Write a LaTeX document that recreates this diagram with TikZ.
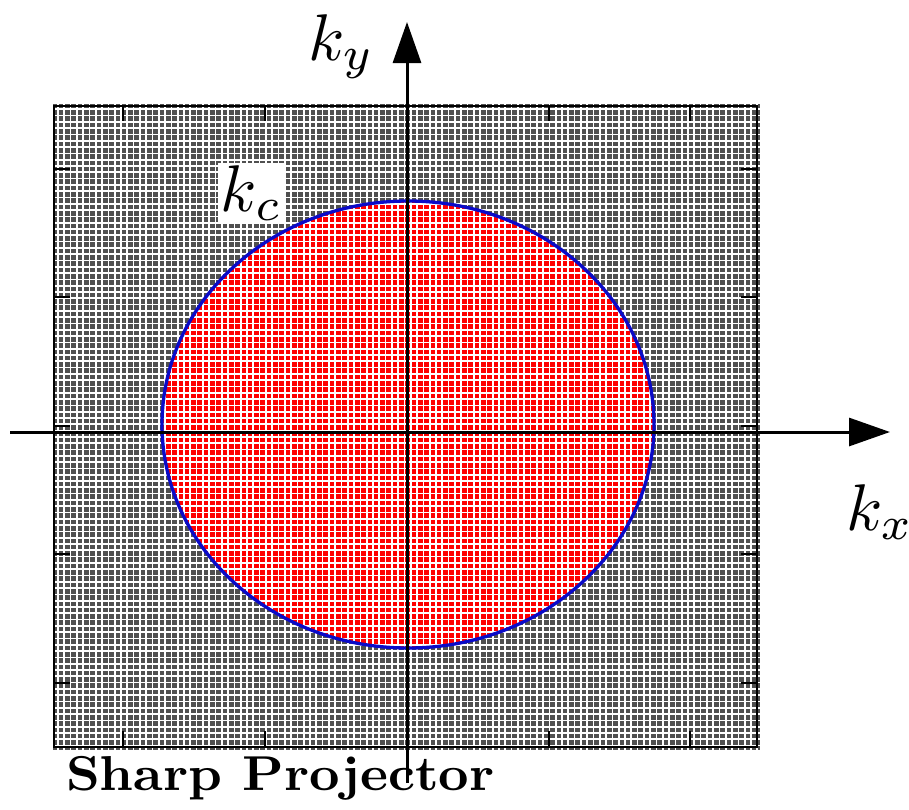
\documentclass[tikz,border=0pt]{standalone}
\usetikzlibrary{arrows.meta}
\definecolor{cellgray}{RGB}{80,80,80}
\definecolor{ringblue}{RGB}{10,10,200}
\tikzset{
  gridline/.style={white, line width=1.7pt},
  frameline/.style={black, line width=2.4pt},
  tickline/.style={black, line width=2pt},
  axisline/.style={black, line width=3pt, -{Triangle[length=41pt,width=28pt]}},
  klabel/.style={inner sep=0pt, scale=6.6},
}
\begin{document}
\begin{tikzpicture}[x=1pt,y=-1pt]
\useasboundingbox (0,0) rectangle (909,809);
% textured background
\fill[cellgray] (51.7,103) rectangle (760,750);
\fill[red] (408,424.5) ellipse [x radius=246, y radius=223.5];
\foreach \i in {0,...,112} {\draw[gridline] (51.7+\i*6.3,103) -- (51.7+\i*6.3,750);}
\foreach \j in {0,...,102} {\draw[gridline] (51.7,103+\j*6.3) -- (760,103+\j*6.3);}
% frame and ticks
\draw[frameline] (54,105.7) rectangle (757,747);
\foreach \x in {123,265,549,690} {
  \draw[tickline] (\x,105.7) -- (\x,121);
  \draw[tickline] (\x,747) -- (\x,731);
}
\foreach \y in {169,297,426,554,683} {
  \draw[tickline] (54,\y) -- (70,\y);
  \draw[tickline] (757,\y) -- (741,\y);
}
% circle boundary
\draw[ringblue, line width=3.3pt] (408,424.5) ellipse [x radius=246, y radius=223.5];
% axes
\coordinate (xs) at (10,432);
\coordinate (xe) at (890,432);
\coordinate (ys) at (407,783);
\coordinate (ye) at (407,22);
\draw[axisline] (xs) -- (xe);
\draw[axisline] (ys) -- (ye);
% labels
\node[klabel, anchor=base west] (ky) at (307,60) {$k_y$};
\node[klabel, anchor=base west] (kx) at (845,530) {$k_x$};
\node[klabel, anchor=base west, fill=white, inner sep=0.4pt] (kc) at (217,211) {$k_c$};
\node[anchor=base west, inner sep=0pt, xscale=5.3, yscale=4.9] (title) at (65,790) {\bfseries Sharp Projector};
\end{tikzpicture}
\end{document}
